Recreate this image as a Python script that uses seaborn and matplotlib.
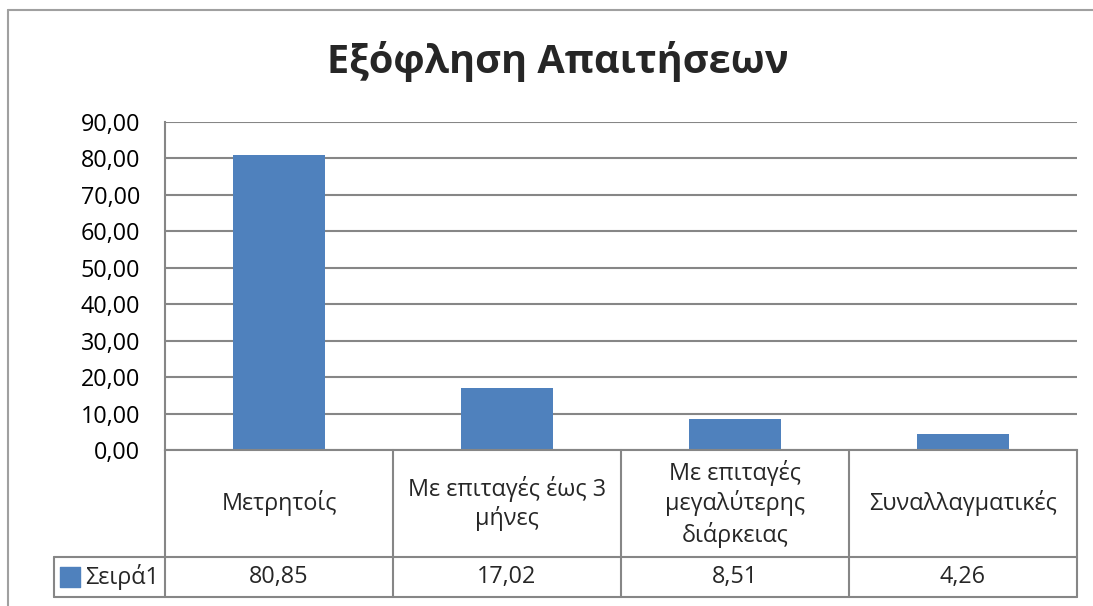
import matplotlib
matplotlib.use("Agg")
import matplotlib.pyplot as plt
import seaborn as sns
from matplotlib.lines import Line2D
from matplotlib.ticker import FuncFormatter

# ---- data ----
title = "Εξόφληση Απαιτήσεων"
categories = ["Μετρητοίς", "Με επιταγές έως 3\nμήνες",
              "Με επιταγές\nμεγαλύτερης\nδιάρκειας", "Συναλλαγματικές"]
values = [80.85, 17.02, 8.51, 4.26]
series_name = "Σειρά1"
yticks = [0, 10, 20, 30, 40, 50, 60, 70, 80, 90]

BAR = "#4F81BD"
GRID = "#868686"
FONT = ["Open Sans", "DejaVu Sans"]
FS = 16.8

sns.set_style("white")
plt.rcParams["font.family"] = FONT

fig = plt.figure(figsize=(10.93, 6.06), dpi=100)
ax = fig.add_axes([165/1093, 1-450/606, (1077-165)/1093, (450-122)/606])

sns.barplot(x=list(range(len(values))), y=values, color=BAR, saturation=1,
            width=0.4, ax=ax, edgecolor="none")
ax.set_xlim(-0.5, len(values) - 0.5)
ax.set_ylim(0, 90)
ax.set_yticks(yticks)
ax.yaxis.set_major_formatter(FuncFormatter(lambda v, p: f"{v:.2f}".replace(".", ",")))
ax.tick_params(axis="y", length=0, pad=18, labelsize=FS, labelcolor="black")
ax.tick_params(axis="x", bottom=False, labelbottom=False)
ax.set_xlabel("")
ax.set_ylabel("")
ax.grid(axis="y", color=GRID, lw=1.5)
ax.set_axisbelow(True)
for s in ["top", "right"]:
    ax.spines[s].set_visible(False)
for s in ["left", "bottom"]:
    ax.spines[s].set_color(GRID)
    ax.spines[s].set_linewidth(1.5)

# ---- data table below the axis ----
tr = ax.get_xaxis_transform()
n = len(values)
r1 = -107/328
r2 = -147/328
leg_left = -0.5 - 111/228
kw = dict(color=GRID, lw=1.5, transform=tr, clip_on=False)
ax.plot([-0.5, -0.5], [0, r2], **kw)
for i in range(n):
    ax.plot([i + 0.5, i + 0.5], [0, r2], **kw)
ax.plot([leg_left, n - 0.5], [r1, r1], **kw)
ax.plot([leg_left, n - 0.5], [r2, r2], **kw)
ax.plot([leg_left, leg_left], [r1, r2], **kw)

for i, (c, v) in enumerate(zip(categories, values)):
    ax.text(i, r1/2, c, transform=tr, ha="center", va="center", fontsize=FS,
            linespacing=1.25, clip_on=False)
    ax.text(i, (r1 + r2)/2, f"{v:.2f}".replace(".", ","), transform=tr,
            ha="center", va="center", fontsize=FS, clip_on=False)

# legend key in table
ax.scatter([leg_left + 0.07], [(r1 + r2)/2], marker="s", s=190, color=BAR,
           transform=tr, clip_on=False)
ax.text(leg_left + 0.135, (r1 + r2)/2, series_name, transform=tr, ha="left",
        va="center", fontsize=FS, clip_on=False)

# title
fig.text(0.510, 1-62/606, title, ha="center", va="center", fontsize=28.5,
         fontweight="bold")

# outer chart frame
fig.add_artist(Line2D([8/1093, 8/1093], [0, 1-10/606], color="#a0a0a0", lw=1.5))
fig.add_artist(Line2D([8/1093, 1], [1-10/606, 1-10/606], color="#a0a0a0", lw=1.5))

fig.savefig("out.png", dpi=100)
